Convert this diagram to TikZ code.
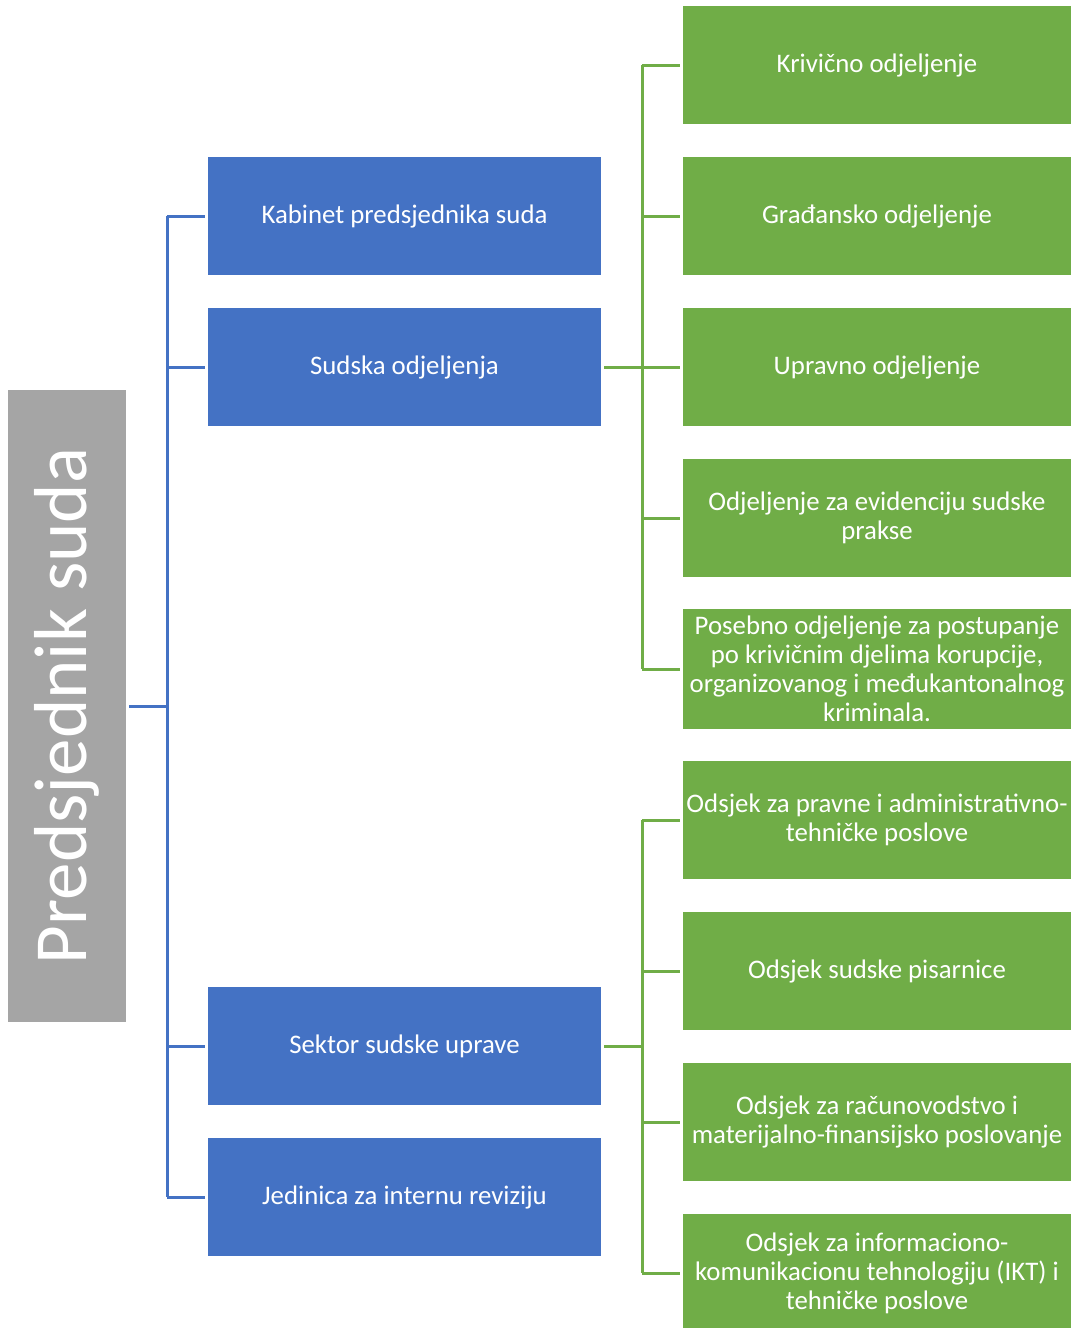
\documentclass[tikz,border=0pt]{standalone}
\usepackage{fontspec}
\setmainfont{Carlito}
\usetikzlibrary{positioning}

\definecolor{predgray}{HTML}{A5A5A5}
\definecolor{orgblue}{HTML}{4472C4}
\definecolor{orggreen}{HTML}{70AD47}

\begin{document}
\begin{tikzpicture}[x=0.5pt,y=-0.5pt,
  bluebox/.style={rectangle,fill=orgblue,draw=none,text=white,minimum width=196.5pt,minimum height=59pt,align=center,font=\fontsize{13.4}{14.5}\selectfont},
  greenbox/.style={rectangle,fill=orggreen,draw=none,text=white,inner xsep=0pt,minimum width=194pt,minimum height=59pt,align=center,font=\fontsize{13.4}{14.5}\selectfont},
  bline/.style={draw=orgblue,line width=1.5pt},
  gline/.style={draw=orggreen,line width=1.5pt}]
\useasboundingbox (0,0) rectangle (1071,1328);
\clip (0,0) rectangle (1071,1328);

\node[rectangle,fill=predgray,text=white,rotate=90,minimum width=316pt,minimum height=59pt,font=\fontsize{37.5}{40}\selectfont] (pred) at (67,706) {Predsjednik suda};

\node[bluebox] (kab) at (404.5,216) {Kabinet predsjednika suda};
\node[bluebox] (sud) at (404.5,367) {Sudska odjeljenja};
\node[bluebox] (sek) at (404.5,1046) {Sektor sudske uprave};
\node[bluebox] (jed) at (404.5,1197) {Jedinica za internu reviziju};

\node[greenbox] (g1) at (877,65) {Krivično odjeljenje};
\node[greenbox] (g2) at (877,216) {Građansko odjeljenje};
\node[greenbox] (g3) at (877,367) {Upravno odjeljenje};
\node[greenbox] (g4) at (877,518) {Odjeljenje za evidenciju sudske\\prakse};
\node[greenbox] (g5) at (877,669) {Posebno odjeljenje za postupanje\\po krivičnim djelima korupcije,\\organizovanog i međukantonalnog\\kriminala.};
\node[greenbox] (g6) at (877,820) {Odsjek za pravne i administrativno-\\tehničke poslove};
\node[greenbox] (g7) at (877,971) {Odsjek sudske pisarnice};
\node[greenbox] (g8) at (877,1122) {Odsjek za računovodstvo i\\materijalno-finansijsko poslovanje};
\node[greenbox] (g9) at (877,1273) {Odsjek za informaciono-\\komunikacionu tehnologiju (IKT) i\\tehničke poslove};

% plavi spojevi
\coordinate (bj) at (167,706);
\draw[bline] ([xshift=1.5pt]pred.south) -- (bj);
\draw[bline] (bj |- kab.west) -- (bj |- jed.west);
\foreach \n in {kab,sud,sek,jed}
  \draw[bline] (bj |- \n.west) -- ([xshift=-1.5pt]\n.west);

% zeleni spojevi
\coordinate (gj1) at (642,367);
\coordinate (gj2) at (642,1046);
\draw[gline] ([xshift=1.5pt]sud.east) -- (gj1);
\draw[gline] ([xshift=1.5pt]sek.east) -- (gj2);
\draw[gline] (gj1 |- g1.west) -- (gj1 |- g5.west);
\draw[gline] (gj2 |- g6.west) -- (gj2 |- g9.west);
\foreach \n in {g1,g2,g3,g4,g5,g6,g7,g8,g9}
  \draw[gline] (gj1 |- \n.west) -- ([xshift=-1.5pt]\n.west);

\end{tikzpicture}
\end{document}
